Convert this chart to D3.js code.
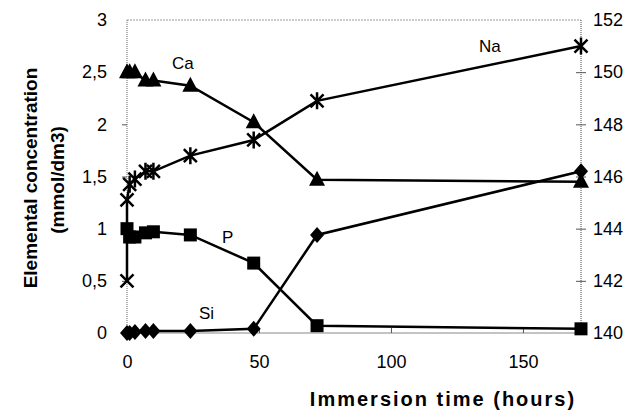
<!DOCTYPE html>
<html>
<head>
<meta charset="utf-8">
<script src="https://cdn.jsdelivr.net/npm/d3@7"></script>
<style>
  body { margin: 0; background: #fff; }
  text { font-family: "Liberation Sans", Arial, sans-serif; fill: #000; }
</style>
</head>
<body>
<script>
// chart values
var times = [0, 1, 3, 7, 10, 24, 48, 72, 172];
var caValues = [2.5, 2.5, 2.5, 2.42, 2.42, 2.37, 2.02, 1.47, 1.45];
var pValues = [1.0, 0.92, 0.92, 0.96, 0.97, 0.94, 0.67, 0.07, 0.04];
var siValues = [0, 0, 0.01, 0.02, 0.02, 0.02, 0.04, 0.94, 1.55];
var naTimes = [0, 0, 1, 3, 7, 10, 24, 48, 72, 172];
var naValues = [142.0, 145.1, 145.7, 145.9, 146.2, 146.2, 146.8, 147.4, 148.9, 151.0];

var xTicks = [0, 50, 100, 150];
var leftTicks = [0, 0.5, 1, 1.5, 2, 2.5, 3];
var rightTicks = [140, 142, 144, 146, 148, 150, 152];

var width = 637;
var height = 416;
// plot box (note: "top" is a reserved window property, so use other names)
var plotLeft = 127, plotRight = 581, plotTop = 20, plotBottom = 333;

var svg = d3.select('body').append('svg')
  .attr('width', width)
  .attr('height', height);

var x = d3.scaleLinear().domain([0, 172]).range([plotLeft, plotRight]);
var yL = d3.scaleLinear().domain([0, 3]).range([plotBottom, plotTop]);
var yR = d3.scaleLinear().domain([140, 152]).range([plotBottom, plotTop]);

var fmt = function(d) { return String(d).replace('.', ','); };

// frame lines
svg.append('line').attr('x1', plotLeft).attr('x2', plotRight).attr('y1', plotTop).attr('y2', plotTop)
  .attr('stroke', '#999').attr('stroke-dasharray', '2,1');
svg.append('line').attr('x1', plotLeft).attr('x2', plotLeft).attr('y1', plotTop).attr('y2', plotBottom)
  .attr('stroke', '#666').attr('stroke-dasharray', '1,1');
svg.append('line').attr('x1', plotRight).attr('x2', plotRight).attr('y1', plotTop).attr('y2', plotBottom)
  .attr('stroke', '#444').attr('stroke-dasharray', '1,1');
svg.append('line').attr('x1', plotLeft).attr('x2', plotRight).attr('y1', plotBottom).attr('y2', plotBottom)
  .attr('stroke', '#888');

// left axis
var gl = svg.append('g').attr('transform', 'translate(' + plotLeft + ',0)')
  .call(d3.axisLeft(yL).tickValues(leftTicks).tickFormat(fmt).tickSize(5).tickPadding(15));
// right axis
var gr = svg.append('g').attr('transform', 'translate(' + plotRight + ',0)')
  .call(d3.axisRight(yR).tickValues(rightTicks).tickFormat(String).tickSize(5).tickPadding(7));
gr.selectAll('.tick line').attr('x1', -5);
// bottom axis
var gb = svg.append('g').attr('transform', 'translate(0,' + plotBottom + ')')
  .call(d3.axisBottom(x).tickValues(xTicks).tickFormat(String).tickSize(-5).tickPadding(22));

[gl, gr, gb].forEach(function(g) {
  g.select('.domain').remove();
  g.selectAll('.tick line').attr('stroke', '#555');
  g.selectAll('.tick text').attr('font-size', 18).style('font-family', '"Liberation Sans", Arial, sans-serif');
});
gl.selectAll('.tick').filter(function(d) { return d === 0 || d === 3; }).select('line').remove();
gr.selectAll('.tick').filter(function(d) { return d === 140 || d === 152; }).select('line').remove();
gb.selectAll('.tick').filter(function(d) { return d === 0; }).select('line').remove();

// series lines
var lineL = d3.line().x(function(d) { return x(d[0]); }).y(function(d) { return yL(d[1]); });
var lineR = d3.line().x(function(d) { return x(d[0]); }).y(function(d) { return yR(d[1]); });

var ca = d3.zip(times, caValues);
var p = d3.zip(times, pValues);
var si = d3.zip(times, siValues);
var na = d3.zip(naTimes, naValues);

[ca, p, si].forEach(function(s) {
  svg.append('path').datum(s).attr('d', lineL)
    .attr('fill', 'none').attr('stroke', '#000').attr('stroke-width', 2.5);
});
svg.append('path').datum(na).attr('d', lineR)
  .attr('fill', 'none').attr('stroke', '#000').attr('stroke-width', 2.5);

// markers
svg.selectAll('.ca').data(ca).enter().append('path')
  .attr('transform', function(d) { return 'translate(' + x(d[0]) + ',' + yL(d[1]) + ')'; })
  .attr('d', 'M0,-9L8,6L-8,6Z').attr('fill', '#000');
svg.selectAll('.p').data(p).enter().append('rect')
  .attr('x', function(d) { return x(d[0]) - 6.5; })
  .attr('y', function(d) { return yL(d[1]) - 6.5; })
  .attr('width', 13).attr('height', 13).attr('fill', '#000');
svg.selectAll('.si').data(si).enter().append('path')
  .attr('transform', function(d) { return 'translate(' + x(d[0]) + ',' + yL(d[1]) + ')'; })
  .attr('d', 'M0,-8L7,0L0,8L-7,0Z').attr('fill', '#000');
svg.selectAll('.na').data(na).enter().append('path')
  .attr('transform', function(d) { return 'translate(' + x(d[0]) + ',' + yR(d[1]) + ')'; })
  .attr('d', function(d, i) {
    var s = 'M-6.5,-6.5L6.5,6.5M6.5,-6.5L-6.5,6.5';
    return i < 2 ? s : s + 'M0,-8.5L0,8.5';
  })
  .attr('stroke', '#000').attr('stroke-width', 2.5).attr('fill', 'none');

// series labels
svg.append('text').attr('x', 172).attr('y', 69).attr('font-size', 17).text('Ca');
svg.append('text').attr('x', 479).attr('y', 52).attr('font-size', 17).text('Na');
svg.append('text').attr('x', 222).attr('y', 243).attr('font-size', 17).text('P');
svg.append('text').attr('x', 199).attr('y', 319).attr('font-size', 17).text('Si');

// axis titles
svg.append('text').attr('transform', 'translate(37,178) rotate(-90)')
  .attr('text-anchor', 'middle').attr('font-size', 19).attr('font-weight', 'bold')
  .text('Elemental concentration');
svg.append('text').attr('transform', 'translate(64,180) rotate(-90)')
  .attr('text-anchor', 'middle').attr('font-size', 19).attr('font-weight', 'bold')
  .text('(mmol/dm3)');
svg.append('text').attr('x', 443).attr('y', 406)
  .attr('text-anchor', 'middle').attr('font-size', 20).attr('font-weight', 'bold')
  .attr('letter-spacing', 2)
  .text('Immersion time (hours)');
</script>
</body>
</html>
